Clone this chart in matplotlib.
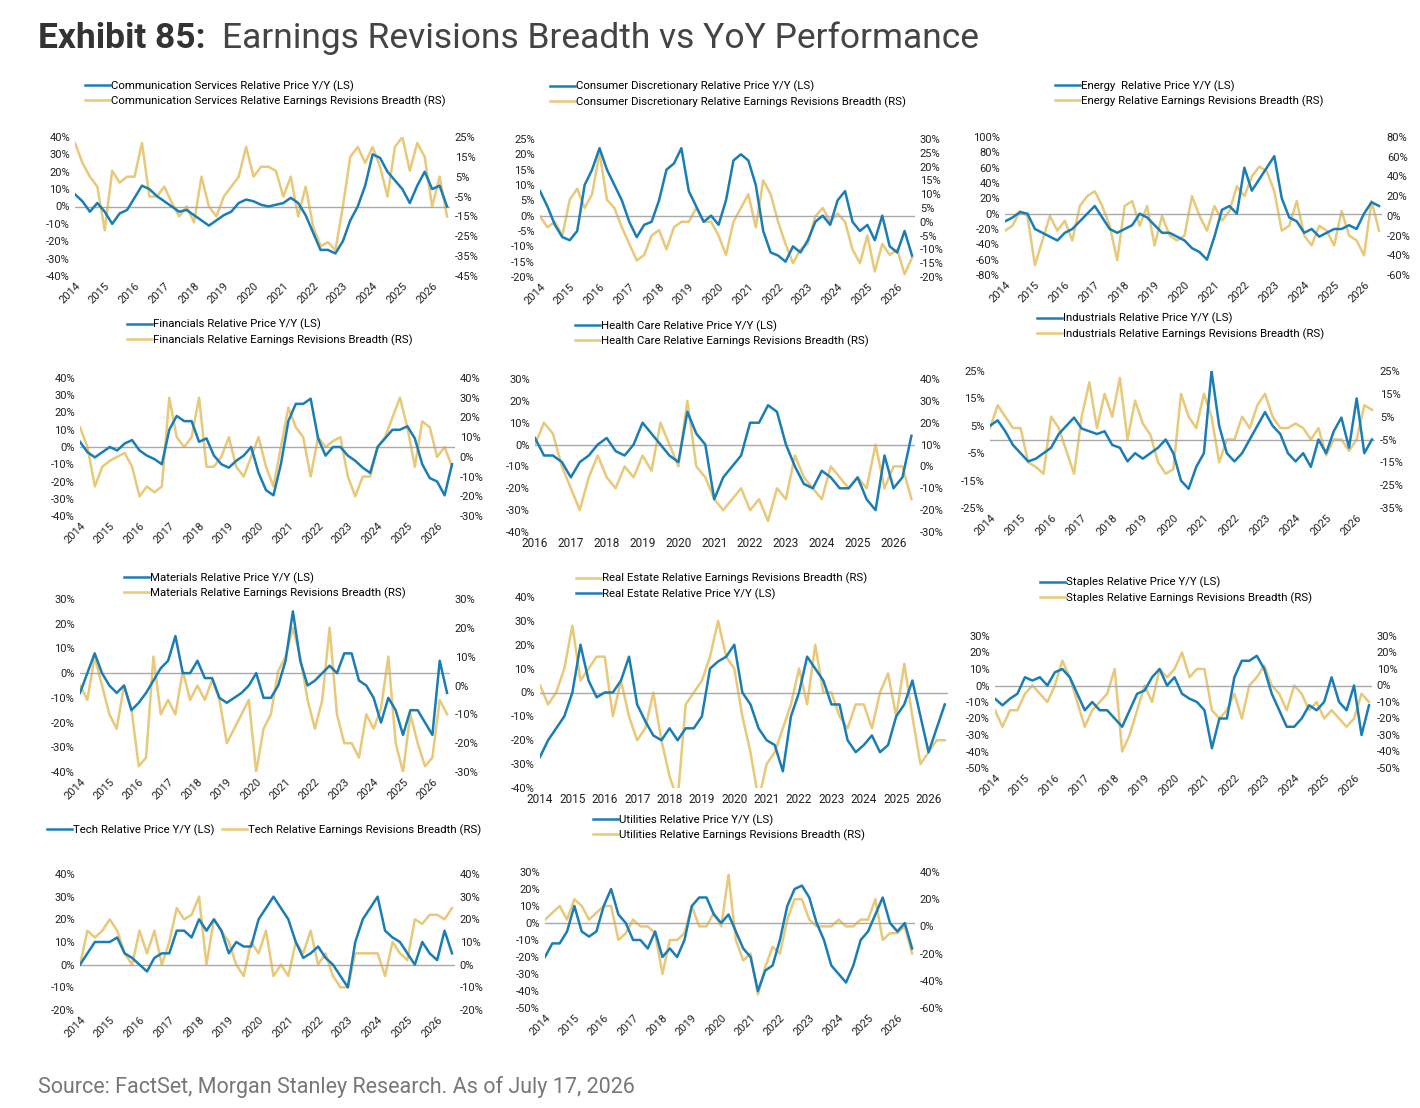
import numpy as np
import matplotlib
matplotlib.use("Agg")
import matplotlib.pyplot as plt
from matplotlib.ticker import FuncFormatter

plt.rcParams['font.family'] = ['Roboto', 'DejaVu Sans']

BLUE = '#1a7db5'
GOLD = '#e8c97a'
W, H = 1420, 1108

# quarterly readings, start year per panel
comm_px = [7,3,-3,2, -3,-10,-4,-2, 5,12,10,6, 3,0,-3,-2, -5,-8,-11,-8, -5,-3,2,4, 3,1,0,1,
           2,5,2,-5, -15,-25,-25,-27, -20,-8,0,12, 30,28,20,15, 10,2,12,20, 10,12,0]
comm_er = [22,12,5,0, -22,8,2,5, 5,22,-5,-5, 0,-8,-15,-10, -18,5,-10,-15, -5,0,5,20, 5,10,10,8,
           -5,5,-15,0, -20,-30,-28,-32, -10,15,20,12, 20,10,-5,20, 25,8,22,15, -10,5,-15]
disc_px = [8,3,-3,-7, -8,-5,10,15, 22,15,10,5, -2,-7,-3,-2, 5,15,17,22, 8,3,-2,0, -3,5,18,20,
           18,10,-5,-12, -13,-15,-10,-12, -8,-2,0,-3, 5,8,-2,-5, -3,-8,0,-10, -12,-5,-13]
disc_er = [2,-2,0,-5, 8,12,5,10, 25,8,5,-2, -8,-14,-12,-5, -3,-10,-2,0, 0,5,0,0, -5,-12,0,5,
           10,-2,15,10, 0,-8,-15,-10, -8,2,5,0, 3,0,-10,-15, -5,-18,-8,-12, -10,-19,-13]
enrg_px = [-10,-5,2,0, -20,-25,-30,-35, -25,-20,-10,0, 10,-5,-20,-25, -20,-15,0,-5, -15,-25,-25,-30,
           -35,-45,-50,-60, -30,5,10,0, 60,30,45,60, 75,20,-5,-10, -25,-20,-30,-25, -20,-20,-15,-20, 0,15,10]
enrg_er = [-15,-10,5,0, -50,-25,0,-15, -5,-25,10,20, 25,10,-10,-45, 10,15,-10,10, -30,0,-20,-25,
           -20,20,0,-15, 10,-5,5,30, 20,40,50,45, 25,-15,-10,15, -20,-30,-10,-15, -30,5,-20,-25, -40,15,-15]
fin_px = [3,-3,-6,-3, 0,-2,2,4, -2,-5,-7,-10, 10,18,15,15, 3,5,-5,-10, -12,-8,-5,0, -15,-25,-28,-10,
          15,25,25,28, 5,-5,0,0, -5,-8,-12,-15, 0,5,10,10, 12,5,-10,-18, -20,-28,-10]
fin_er = [15,5,-15,-5, -2,0,2,-5, -20,-15,-18,-15, 30,10,5,10, 30,-5,-5,0, 10,-5,-10,0, 10,-5,-15,5,
          25,15,10,-10, 10,5,8,10, -10,-20,-10,-10, 5,10,20,30, 15,-5,18,15, 0,5,-5]
hc_px = [3,-5,-5,-8, -15,-8,-5,0, 3,-3,-5,0, 10,5,0,-5, -8,15,5,0, -25,-15,-10,-5, 10,10,18,15,
         0,-10,-18,-20, -12,-15,-20,-20, -15,-25,-30,-5, -20,-15,4]
hc_er = [10,20,15,0, -10,-20,-5,5, -5,-10,0,-5, 5,-2,20,10, 0,30,0,-5, -15,-20,-15,-10, -20,-15,-25,-10,
         -15,5,-5,-10, -15,0,-5,-10, -5,-10,10,-10, 0,0,-15]
ind_px = [5,7,3,-2, -5,-8,-7,-5, -3,2,5,8, 4,3,2,3, -2,-3,-8,-5, -7,-5,-3,0, -5,-15,-18,-10,
          -5,25,5,-5, -8,-5,0,5, 10,5,2,-5, -8,-5,-10,0, -5,3,8,-3, 15,-5,0]
ind_er = [0,10,5,0, 0,-15,-17,-20, 5,0,-10,-20, 5,20,0,15, 5,22,-5,12, 2,-3,-15,-20, -18,15,5,0,
          15,5,-15,-5, -5,5,0,10, 15,5,0,0, 2,0,-5,0, -12,-5,-5,-10, -5,10,8]
mat_px = [-8,0,8,0, -5,-8,-5,-15, -12,-8,-3,2, 5,15,0,0, 5,-2,-2,-10, -12,-10,-8,-5, 0,-10,-10,-5,
          5,25,5,-5, -3,0,3,0, 8,8,-3,-5, -10,-20,-10,-15, -25,-15,-15,-20, -25,5,-8]
mat_er = [0,-5,10,0, -10,-15,0,-8, -28,-25,10,-10, -5,-10,5,-5, 0,-5,2,-5, -20,-15,-10,-5, -30,-15,-10,5,
          10,20,10,-5, -15,-5,20,-10, -20,-20,-25,-10, -15,-8,10,-20, -30,-10,-20,-28, -25,-5,-10]
re_px = [-27,-20,-15,-10, 0,20,5,-2, 0,0,5,15, -5,-12,-18,-20, -15,-20,-15,-15, -10,10,13,15, 20,0,-5,-15,
         -20,-22,-33,-10, 0,15,10,5, -5,-5,-20,-25, -22,-18,-25,-22, -10,-5,5,-10, -25,-15,-5]
re_er = [3,-5,0,10, 28,5,10,15, 15,-10,5,-10, -20,-15,0,-20, -35,-45,-5,0, 5,15,30,15, 10,-10,-25,-45,
         -30,-25,-15,-5, 10,-5,20,0, 0,-10,-15,-5, -5,-15,0,8, -10,12,-10,-30, -25,-20,-20]
stp_px = [-8,-12,-8,-5, 5,3,5,0, 8,10,5,-5, -15,-10,-15,-15, -20,-25,-15,-5, -3,5,10,0, 5,-5,-8,-10,
          -15,-38,-20,-20, 5,15,15,18, 10,-5,-15,-25, -25,-20,-12,-15, -10,5,-10,-15, 0,-30,-12]
stp_er = [-15,-25,-15,-15, -5,0,-5,-10, 0,15,5,-10, -25,-15,-10,-5, 10,-40,-30,-15, 0,-10,10,5, 10,20,5,10,
          10,-15,-20,-15, -5,-20,0,5, 12,0,-5,-15, 0,-5,-15,-10, -20,-15,-20,-25, -20,-5,-10]
tech_px = [0,5,10,10, 10,12,5,3, 0,-3,3,5, 5,15,15,12, 20,15,20,15, 5,10,8,8, 20,25,30,25,
           20,10,3,5, 8,3,0,-5, -10,10,20,25, 30,15,12,10, 5,0,10,5, 2,15,5]
tech_er = [0,15,12,15, 20,15,5,0, 15,5,15,0, 10,25,20,22, 30,0,20,15, 10,0,-5,10, 5,15,-5,0,
           -5,10,5,15, 0,5,-5,-10, -10,5,5,5, 5,-5,10,5, 2,20,18,22, 22,20,25]
util_px = [-20,-12,-12,-5, 10,-5,-8,-5, 10,20,5,0, -10,-10,-15,-5, -20,-15,-20,-10, 10,15,15,5, 0,5,-5,-15,
           -20,-40,-28,-25, -10,10,20,22, 15,0,-10,-25, -30,-35,-25,-10, -5,5,15,0, -5,0,-15]
util_er = [5,10,15,5, 20,15,5,10, 15,15,-10,-5, 5,0,0,-5, -35,-10,-10,-5, 15,0,0,10, 0,38,-10,-25,
           -20,-50,-30,-15, -20,5,20,20, 5,0,0,0, 5,0,0,5, 5,20,-10,-5, -5,0,-20]

# name, price, earnings, start year, left lim/ticks, right lim/ticks
panels = [
    ("Communication Services", comm_px, comm_er, 2014, (-40, 40, 10), (-45, 25, 10)),
    ("Consumer Discretionary", disc_px, disc_er, 2014, (-20, 25, 5), (-20, 30, 5)),
    ("Energy ", enrg_px, enrg_er, 2014, (-80, 100, 20), (-60, 80, 20)),
    ("Financials", fin_px, fin_er, 2014, (-40, 40, 10), (-30, 40, 10)),
    ("Health Care", hc_px, hc_er, 2016, (-40, 30, 10), (-30, 40, 10)),
    ("Industrials", ind_px, ind_er, 2014, (-25, 25, 10), (-35, 25, 10)),
    ("Materials", mat_px, mat_er, 2014, (-40, 30, 10), (-30, 30, 10)),
    ("Real Estate", re_px, re_er, 2014, (-40, 40, 10), (-40, 40, 10)),
    ("Staples", stp_px, stp_er, 2014, (-50, 30, 10), (-50, 30, 10)),
    ("Tech", tech_px, tech_er, 2014, (-20, 40, 10), (-20, 40, 10)),
    ("Utilities", util_px, util_er, 2014, (-50, 30, 10), (-60, 40, 20)),
]

# plot boxes in pixels (x0, y0, x1, y1) and legend anchor (x, y)
boxes = [
    ((75, 137, 450, 276), (85, 80)),
    ((540, 139, 915, 277), (550, 81)),
    ((1005, 137, 1382, 275), (1055, 80)),
    ((80, 378, 455, 516), (127, 319)),
    ((535, 379, 915, 532), (575, 320)),
    ((990, 371, 1375, 508), (1037, 313)),
    ((80, 599, 450, 772), (124, 572)),
    ((540, 597, 948, 788), (576, 573)),
    ((995, 636, 1372, 768), (1040, 577)),
    ((80, 874, 455, 1010), (47, 824)),
    ((545, 872, 915, 1008), (593, 814)),
]

pct = FuncFormatter(lambda v, p: f"{v:.0f}%")

fig = plt.figure(figsize=(W / 100, H / 100), dpi=100)

for (name, px, er, start, ll, rl), (box, leg) in zip(panels, boxes):
    x0, y0, x1, y1 = box
    ax = fig.add_axes([x0 / W, 1 - y1 / H, (x1 - x0) / W, (y1 - y0) / H])
    ax2 = ax.twinx()
    t = start + np.arange(len(px)) * 0.25
    ax.axhline(0, color='#aaaaaa', lw=1, zorder=0)
    lp, = ax.plot(t, px, color=BLUE, lw=1.8, zorder=3)
    le, = ax2.plot(t, er, color=GOLD, lw=1.8)
    ax.set_zorder(ax2.get_zorder() + 1)
    ax.patch.set_visible(False)
    ax.set_ylim(ll[0], ll[1])
    ax.set_yticks(np.arange(ll[0], ll[1] + 0.1, ll[2]))
    ax2.set_ylim(rl[0], rl[1])
    ax2.set_yticks(np.arange(rl[0], rl[1] + 0.1, rl[2]))
    ax.yaxis.set_major_formatter(pct)
    ax2.yaxis.set_major_formatter(pct)
    ax.set_xlim(start, 2026.6)
    ax.set_xticks(range(start, 2027))
    for a in (ax, ax2):
        for s in a.spines.values():
            s.set_visible(False)
        a.tick_params(length=0, labelsize=8, colors='#222222')
    if name in ("Health Care", "Real Estate"):
        ax.tick_params(axis='x', labelsize=8.5)
    else:
        plt.setp(ax.get_xticklabels(), rotation=45, ha='right', rotation_mode='anchor')
    if name == "Real Estate":
        ax2.set_yticklabels([])
    lab_p = f"{name} Relative Price Y/Y (LS)"
    lab_e = f"{name.strip()} Relative Earnings Revisions Breadth (RS)"
    if name == "Real Estate":
        handles, labels = [le, lp], [lab_e, lab_p]
    else:
        handles, labels = [lp, le], [lab_p, lab_e]
    ncol = 2 if name == "Tech" else 1
    fig.legend(handles, labels, loc='upper left', bbox_to_anchor=(leg[0] / W, 1 - leg[1] / H),
               frameon=False, fontsize=8.2, ncol=ncol, handlelength=2.2, handletextpad=0.1,
               labelspacing=0.35, columnspacing=0.6, borderaxespad=0, borderpad=0)

fig.text(38 / W, 1 - 38 / H, "Exhibit 85:", fontsize=25.5, fontweight='bold', color='#333333', va='center')
fig.text(222 / W, 1 - 38 / H, "Earnings Revisions Breadth vs YoY Performance", fontsize=25.5,
         color='#444444', va='center')
fig.text(38 / W, 1 - 1087 / H, "Source: FactSet, Morgan Stanley Research. As of July 17, 2026",
         fontsize=15.5, color='#777777', va='center')

fig.savefig("out.png", dpi=100)
